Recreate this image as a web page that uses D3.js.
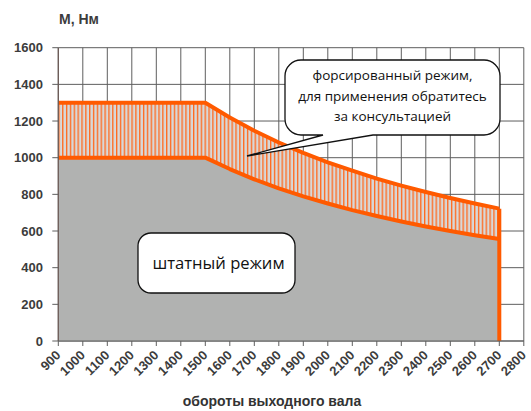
<!DOCTYPE html>
<html><head><meta charset="utf-8">
<script src="https://cdn.jsdelivr.net/npm/d3@7"></script>
<style>body{margin:0;background:#fff}svg{display:block}</style>
</head><body><svg id="c" width="531" height="411"></svg>
<script>
// speed (rpm) points
const rpm = [900, 1500, 1600, 1700, 1800, 1900, 2000, 2100, 2200, 2300, 2400, 2500, 2600, 2700];
// forced mode torque (upper), Nm
const forced = [1300, 1300, 1219, 1147, 1083, 1026, 975, 929, 886, 848, 813, 780, 750, 722];
// nominal mode torque (lower), Nm
const nominal = [1000, 1000, 938, 882, 833, 789, 750, 714, 682, 652, 625, 600, 577, 556];
const xTicks = d3.range(900, 2801, 100);
const yTicks = [0, 200, 400, 600, 800, 1000, 1200, 1400, 1600];
const yTitle = "М, Нм";
const xTitle = "обороты выходного вала";
const forcedNote = ["форсированный режим,", "для применения обратитесь", "за консультацией"];
const nominalNote = "штатный режим";

const svg = d3.select("#c");
const x = d3.scaleLinear().domain([900, 2800]).range([58.3, 523.8]);
const y = d3.scaleLinear().domain([0, 1600]).range([341, 47.7]);
const orange = "#ff5a00";
const data = rpm.map((r, i) => ({r, up: forced[i], lo: nominal[i]}));
const crv = d3.curveLinear;

const defs = svg.append("defs");
const pat = defs.append("pattern").attr("id", "hatch").attr("patternUnits", "userSpaceOnUse")
  .attr("width", 3.85).attr("height", 10).attr("x", 0.5);
pat.append("rect").attr("width", 3.85).attr("height", 10).attr("fill", "#d8d8d8");
pat.append("rect").attr("x", 0).attr("width", 1.35).attr("height", 10).attr("fill", "#ff6a1f");

// grid
const g = svg.append("g");
g.selectAll(".vg").data(xTicks).join("line")
  .attr("x1", d => x(d)).attr("x2", d => x(d)).attr("y1", y(1600)).attr("y2", y(0))
  .attr("stroke", "#5e5e5e").attr("stroke-width", 1);
g.selectAll(".hg").data(yTicks).join("line")
  .attr("x1", x(900)).attr("x2", x(2800)).attr("y1", d => y(d)).attr("y2", d => y(d))
  .attr("stroke", "#5e5e5e").attr("stroke-width", 1);

// areas
svg.append("path").datum(data)
  .attr("d", d3.area().x(d => x(d.r)).y0(y(0)).y1(d => y(d.lo)).curve(crv))
  .attr("fill", "#b1b2b1");
svg.append("path").datum(data)
  .attr("d", d3.area().x(d => x(d.r)).y0(d => y(d.lo)).y1(d => y(d.up)).curve(crv))
  .attr("fill", "url(#hatch)");

// orange outlines
const lineUp = d3.line().x(d => x(d.r)).y(d => y(d.up)).curve(crv);
const lineLo = d3.line().x(d => x(d.r)).y(d => y(d.lo)).curve(crv);
svg.append("path").datum(data).attr("d", lineUp).attr("fill", "none").attr("stroke", orange).attr("stroke-width", 4).attr("stroke-linejoin", "round");
svg.append("path").datum(data).attr("d", lineLo).attr("fill", "none").attr("stroke", orange).attr("stroke-width", 4).attr("stroke-linejoin", "round");
svg.append("line").attr("x1", x(2700)).attr("x2", x(2700)).attr("y1", y(0)).attr("y2", y(forced[forced.length-1]))
  .attr("stroke", orange).attr("stroke-width", 4);

// axes
const axG = svg.append("g");
axG.append("line").attr("x1", x(900)).attr("x2", x(900)).attr("y1", y(1600)).attr("y2", y(0)).attr("stroke", "#6b5a55").attr("stroke-width", 1.2);
axG.append("line").attr("x1", x(900)).attr("x2", x(2800)).attr("y1", y(0)).attr("y2", y(0)).attr("stroke", "#5e5e5e").attr("stroke-width", 1.2);
axG.selectAll(".yt").data(yTicks).join("line")
  .attr("x1", x(900) - 6).attr("x2", x(900)).attr("y1", d => y(d)).attr("y2", d => y(d)).attr("stroke", "#5e5e5e");
axG.selectAll(".xt").data(xTicks).join("line")
  .attr("x1", d => x(d)).attr("x2", d => x(d)).attr("y1", y(0)).attr("y2", y(0) + 5).attr("stroke", "#5e5e5e");
axG.selectAll(".yl").data(yTicks).join("text")
  .attr("x", 43).attr("y", d => y(d)).attr("dy", "0.35em").attr("text-anchor", "end")
  .attr("font-family", "Liberation Sans, Arial, sans-serif").attr("font-weight", "bold").attr("font-size", 13)
  .attr("fill", "#3c3c3c").text(d => d);
axG.selectAll(".xl").data(xTicks).join("text")
  .attr("transform", d => `translate(${x(d) + 3},${y(0) + 15}) rotate(-45)`)
  .attr("text-anchor", "end")
  .attr("font-family", "Liberation Sans, Arial, sans-serif").attr("font-weight", "bold").attr("font-size", 13)
  .attr("fill", "#3c3c3c").text(d => d);

svg.append("text").attr("x", 59).attr("y", 24).attr("font-family", "Liberation Sans, Arial, sans-serif")
  .attr("font-weight", "bold").attr("font-size", 14).attr("fill", "#3c3c3c").text(yTitle);
svg.append("text").attr("x", 272).attr("y", 406).attr("text-anchor", "middle")
  .attr("font-family", "Liberation Sans, Arial, sans-serif").attr("font-weight", "bold").attr("font-size", 14).attr("fill", "#333")
  .text(xTitle);

// callout: forced
const bx = 285, by = 60, bw = 215, bh = 75, r = 16;
const tail1 = 323, tail2 = 373, tipX = 247, tipY = 156;
const p = d3.path();
p.moveTo(bx + r, by);
p.lineTo(bx + bw - r, by); p.arcTo(bx + bw, by, bx + bw, by + r, r);
p.lineTo(bx + bw, by + bh - r); p.arcTo(bx + bw, by + bh, bx + bw - r, by + bh, r);
p.lineTo(tail2, by + bh); p.lineTo(tipX, tipY); p.lineTo(tail1, by + bh);
p.lineTo(bx + r, by + bh); p.arcTo(bx, by + bh, bx, by + bh - r, r);
p.lineTo(bx, by + r); p.arcTo(bx, by, bx + r, by, r);
p.closePath();
svg.append("path").attr("d", p.toString()).attr("fill", "#fff").attr("stroke", "#111").attr("stroke-width", 1.3);
svg.append("g").selectAll("text").data(forcedNote).join("text")
  .attr("x", bx + bw / 2).attr("y", (d, i) => 80 + i * 20.5).attr("text-anchor", "middle")
  .attr("font-family", "Open Sans, Noto Sans, sans-serif").attr("font-size", 13.5).attr("fill", "#111")
  .text(d => d);

// callout: nominal
svg.append("rect").attr("x", 138).attr("y", 233).attr("width", 157).attr("height", 60).attr("rx", 13)
  .attr("fill", "#fff").attr("stroke", "#111").attr("stroke-width", 1.3);
svg.append("text").attr("x", 218.5).attr("y", 269).attr("text-anchor", "middle")
  .attr("font-family", "Open Sans, Noto Sans, sans-serif").attr("font-size", 16.6).attr("fill", "#111")
  .text(nominalNote);
</script></body></html>
